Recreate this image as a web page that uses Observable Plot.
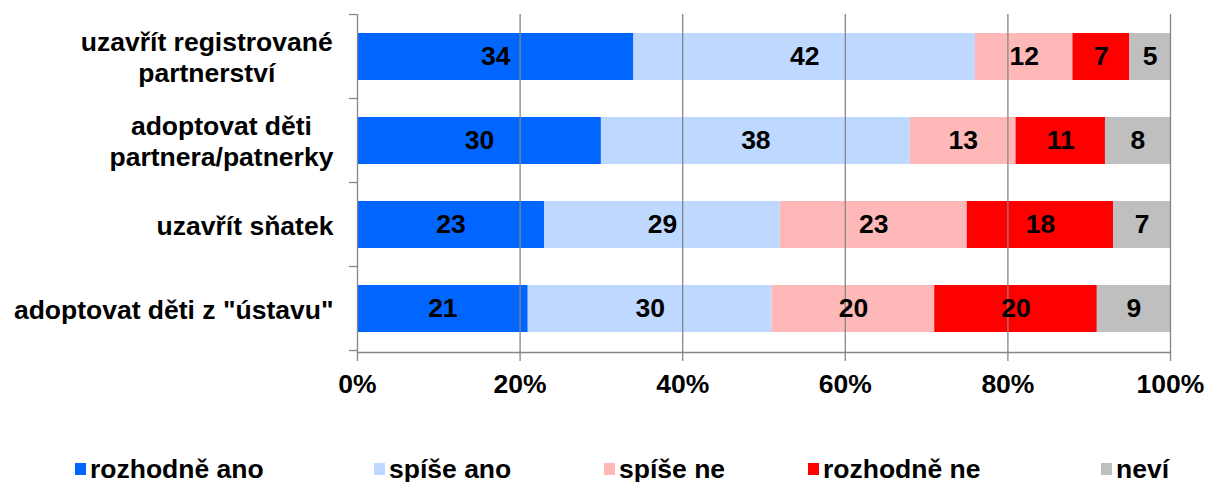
<!DOCTYPE html>
<html>
<head>
<meta charset="utf-8">
<script src="https://cdn.jsdelivr.net/npm/d3@7"></script>
<script src="https://cdn.jsdelivr.net/npm/@observablehq/plot@0.6"></script>
<style>
  html, body { margin: 0; padding: 0; background: #fff; }
  #wrap { position: relative; width: 1207px; height: 482px; font-family: "Liberation Sans", Arial, sans-serif; }
  #legend { position: relative; width: 1207px; height: 62px; }
  .item { position: absolute; top: 34px; height: 30px; line-height: 30px; display: flex; align-items: center; font-weight: bold; font-size: 26.5px; color: #000; white-space: nowrap; }
  .sw { width: 11px; height: 12px; margin-right: 4px; }
</style>
</head>
<body>
<div id="wrap"><div id="chart"></div><div id="legend"></div></div>
<script>
const categories = ["uzavřít registrované\npartnerství", "adoptovat děti\npartnera/patnerky", "uzavřít sňatek", "adoptovat děti z \"ústavu\""];
const responses = ["rozhodně ano", "spíše ano", "spíše ne", "rozhodně ne", "neví"];
const colors = ["#0066FF", "#BFD8FF", "#FFB8B8", "#FF0000", "#BFBFBF"];
const rozhodneAno = [34, 30, 23, 21];
const spiseAno = [42, 38, 29, 30];
const spiseNe = [12, 13, 23, 20];
const rozhodneNe = [7, 11, 18, 20];
const nevi = [5, 8, 7, 9];
const xTicks = [0, 20, 40, 60, 80, 100];

const series = [rozhodneAno, spiseAno, spiseNe, rozhodneNe, nevi];
const data = [];
categories.forEach((c, i) => responses.forEach((r, j) => data.push({q: c, resp: r, value: series[j][i]})));

const grid = "#868686";
const fs = 26.5;
const plot = Plot.plot({
  width: 1207,
  height: 420,
  marginTop: 14,
  marginBottom: 68,
  marginLeft: 357,
  marginRight: 37,
  style: {fontFamily: "'Liberation Sans', Arial, sans-serif", fontSize: fs + "px", fontWeight: "bold", color: "#000", background: "#fff", overflow: "visible"},
  x: {domain: [0, 100]},
  y: {domain: categories, paddingInner: 0.44, paddingOuter: 0.22},
  color: {domain: responses, range: colors},
  marks: [
    Plot.barX(data, Plot.stackX({x: "value", y: "q", fill: "resp", order: responses})),
    Plot.ruleX(xTicks, {stroke: grid, strokeWidth: 1.3}),
    Plot.frame({anchor: "bottom", stroke: grid, strokeWidth: 1.3}),
    Plot.text(data, Plot.stackX({x: "value", y: "q", z: "resp", order: responses, text: "value", fill: "#000", fontSize: fs, fontWeight: "bold"})),
    Plot.axisX({ticks: xTicks, tickFormat: d => d + "%", tickSize: 9, tickPadding: 13, stroke: grid, strokeWidth: 1.3, fill: "#000", fontSize: fs, label: null}),
    Plot.axisY({tickSize: 0, tickPadding: 24, fill: "#000", fontSize: fs, lineHeight: 1.17, label: null})
  ]
});
document.getElementById("chart").appendChild(plot);

// center multi-line category labels on their widest line
d3.select(plot).selectAll('g[aria-label="y-axis tick label"] text').each(function() {
  const w = this.getBBox().width;
  this.setAttribute("text-anchor", "middle");
  this.setAttribute("transform", (this.getAttribute("transform") || "") + ` translate(${-w / 2},0)`);
});

// category boundary ticks on the y axis
const ys = plot.scale("y");
const xs = plot.scale("x");
const x0 = xs.apply(0);
const bounds = categories.map(c => ys.apply(c) - ys.step * ys.paddingInner / 2);
bounds.push(bounds[bounds.length - 1] + ys.step);
d3.select(plot).append("g").selectAll("line").data(bounds).join("line")
  .attr("x1", x0 - 8).attr("x2", x0).attr("y1", d => d).attr("y2", d => d)
  .attr("stroke", grid).attr("stroke-width", 1.3);

// legend
const lefts = [75, 374, 604, 808, 1101];
const items = d3.select("#legend").selectAll(".item").data(responses).join("div")
  .attr("class", "item").style("left", (d, i) => lefts[i] + "px");
items.append("div").attr("class", "sw").style("background", (d, i) => colors[i]);
items.append("span").text(d => d);
</script>
</body>
</html>
